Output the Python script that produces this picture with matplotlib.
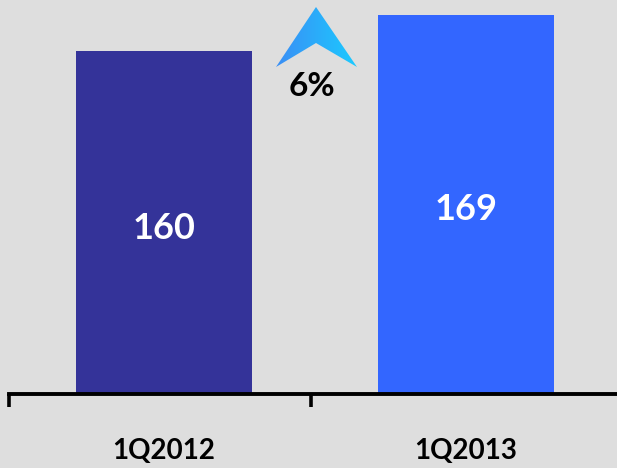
import matplotlib
matplotlib.use("Agg")
import matplotlib.pyplot as plt
import numpy as np
from matplotlib.patches import Polygon
from matplotlib.colors import LinearSegmentedColormap

categories = ["1Q2012", "1Q2013"]
values = [160, 169]
value_labels = ["160", "169"]
bar_colors = ["#343399", "#3366ff"]
growth_label = "6%"

W, H = 617, 468
fig = plt.figure(figsize=(W / 100, H / 100), dpi=100)
fig.patch.set_facecolor("#dedede")

ax_bottom_px = 74
left_px = 9
ax = fig.add_axes([left_px / W, ax_bottom_px / H, (W - left_px) / W, (H - ax_bottom_px) / H])
ax.set_facecolor("#dedede")

off = 4 / 302
x = np.arange(len(categories))
ax.bar(x, values, width=0.583, color=bar_colors, zorder=2)

ax.set_xlim(-0.5 - off, -0.5 - off + (W - left_px) / 302)
ax.set_ylim(74.25, 74.25 + (H - ax_bottom_px) / 4)

for s in ["left", "right", "top"]:
    ax.spines[s].set_visible(False)
ax.spines["bottom"].set_linewidth(2.8)
ax.spines["bottom"].set_color("black")
ax.spines["bottom"].set_zorder(3)
ax.set_yticks([])
ax.set_xticks([-0.5 - off, 0.5 - off])
ax.set_xticklabels([])
ax.tick_params(axis="x", direction="out", length=9, width=2.6, color="black")

font = "Lato"
for i, c in enumerate(categories):
    ax.text(x[i], -0.145, c, transform=ax.get_xaxis_transform(), ha="center", va="center",
            fontsize=20, fontweight="bold", family=font, color="black")

label_y = [228, 210]
for i, lbl in enumerate(value_labels):
    fig.text((left_px + (x[i] + 0.5 + off) * 302) / W, 1 - label_y[i] / H, lbl,
             ha="center", va="center", fontsize=26, fontweight="bold", family=font, color="white")

# growth arrow with gradient
tip = (316, 7); left = (276, 67); notch = (316, 43); right = (357, 67)
pts_px = [tip, right, notch, left]
pts_fig = [(px / W, 1 - py / H) for px, py in pts_px]
gax = fig.add_axes([0, 0, 1, 1], zorder=5)
gax.set_xlim(0, 1); gax.set_ylim(0, 1); gax.axis("off")
grad = np.linspace(0, 1, 256).reshape(1, -1)
cmap = LinearSegmentedColormap.from_list("g", ["#3a8ef5", "#1ccaff"])
im = gax.imshow(grad, extent=[276 / W, 357 / W, 1 - 67 / H, 1 - 7 / H], cmap=cmap, aspect="auto")
clip = Polygon(pts_fig, closed=True, transform=gax.transAxes)
im.set_clip_path(clip)

fig.text(312 / W, 1 - 87 / H, growth_label, ha="center", va="center", fontsize=24,
         fontweight="bold", family=font, color="black")

fig.savefig("out.png", dpi=100, facecolor=fig.get_facecolor())
